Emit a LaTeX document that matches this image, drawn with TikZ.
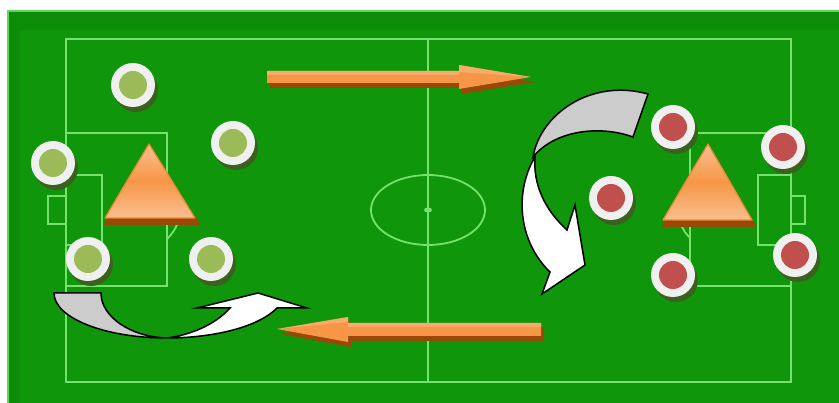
\documentclass[tikz,border=0pt]{standalone}
\usetikzlibrary{calc}
\definecolor{pitchdark}{RGB}{13,140,9}
\definecolor{pitch}{RGB}{16,150,11}
\definecolor{pitchedge}{RGB}{96,214,90}
\definecolor{chalk}{RGB}{116,226,108}
\definecolor{ring}{RGB}{240,240,240}
\definecolor{teamgreen}{RGB}{155,187,89}
\definecolor{teamred}{RGB}{192,80,77}
\definecolor{discshadow}{RGB}{58,98,30}
\definecolor{orangemain}{RGB}{247,150,70}
\definecolor{orangelight}{RGB}{250,192,144}
\definecolor{orangeedge}{RGB}{240,135,55}
\definecolor{orangeshadow}{RGB}{152,72,7}
\definecolor{bandgray}{RGB}{204,204,204}
\tikzset{
  fieldline/.style={draw=chalk, line width=1.8},
  bevel/.style={fill=orangeshadow},
  conefill/.style={top color=orangelight, bottom color=orangelight, middle color=orangemain, draw=orangeedge, line width=1.2, line join=round},
  passfill/.style={fill=orangemain},
  sweep/.style={draw=black, line width=1.5, line join=miter},
}
\begin{document}
\begin{tikzpicture}[x=1pt,y=-1pt]
\useasboundingbox (0,0) rectangle (839,403);
\fill[white] (0,0) rectangle (839,403);
% turf
\fill[pitchdark] (7,10) rectangle (839,403);
\fill[pitch] (20,30) rectangle (839,403);
\draw[pitchedge, line width=2] (8,403) -- (8,11) -- (839,11);

% markings
\draw[fieldline] (66,39) rectangle (791,382);
\draw[fieldline] (428,39) -- (428,382);
\draw[fieldline] (428,210) ellipse (57 and 35);
\fill[chalk] (428,210) ellipse (4 and 2.5);
% left end
\draw[fieldline] (66,133) rectangle (167,286);
\draw[fieldline] (66,175) rectangle (102,245);
\draw[fieldline] (66,196) -- (48,196) -- (48,224) -- (66,224);
\begin{scope}
  \clip (168,0) rectangle (200,403);
  \draw[fieldline] (125,210) ellipse (55 and 45);
\end{scope}
% right end
\draw[fieldline] (690,133) rectangle (791,286);
\draw[fieldline] (758,175) rectangle (791,245);
\draw[fieldline] (791,196) -- (805,196) -- (805,224) -- (791,224);
\begin{scope}
  \clip (660,0) rectangle (689,403);
  \draw[fieldline] (733,210) ellipse (55 and 45);
\end{scope}

% players
\foreach \px/\py in {133/85, 233/143, 53/163, 88/259, 211/259} {
  \fill[discshadow] (\px+3,\py+5) circle (22);
  \fill[ring] (\px,\py) circle (22);
  \fill[teamgreen] (\px,\py) circle (14);
}
\foreach \px/\py in {673/127, 783/147, 611/198, 673/275, 795/255} {
  \fill[discshadow] (\px+3,\py+5) circle (22);
  \fill[ring] (\px,\py) circle (22);
  \fill[teamred] (\px,\py) circle (14);
}

% cones
\fill[bevel] (107,218) -- (197,218) -- (200,225) -- (104,225) -- cycle;
\path[conefill] (149,144) -- (195,218) -- (105,218) -- cycle;
\fill[bevel] (665,220) -- (753,220) -- (756,227) -- (662,227) -- cycle;
\path[conefill] (708,144) -- (752,220) -- (663,220) -- cycle;

% forward pass
\fill[bevel] (269,76) -- (461,76) -- (461,70) -- (535,82) -- (461,94) -- (461,88) -- (269,88) -- cycle;
\fill[passfill] (267,71) -- (459,71) -- (459,65) -- (531,77) -- (459,89) -- (459,83) -- (267,83) -- cycle;
\fill[orangelight, opacity=0.5] (267,71) -- (459,71) -- (459,65) -- (531,77) -- (459,72) -- (459,75) -- (267,75) -- cycle;

% back pass
\fill[bevel] (544,328) -- (351,328) -- (351,322) -- (280,334) -- (351,347) -- (351,341) -- (544,341) -- cycle;
\fill[passfill] (541,323) -- (348,323) -- (348,317) -- (277,329) -- (348,342) -- (348,336) -- (541,336) -- cycle;
\fill[orangelight, opacity=0.5] (541,323) -- (348,323) -- (348,317) -- (277,329) -- (348,322) -- (348,327) -- (541,327) -- cycle;

% curved run, lower left
\filldraw[sweep, fill=bandgray] (54,293) -- (101,293)
  .. controls (101,317) and (131,337) .. (167,338)
  .. controls (105,338) and (54,318) .. cycle;
\filldraw[sweep, fill=white] (167,338)
  .. controls (205,338) and (255,330) .. (277,308)
  -- (307,308) -- (258,293) -- (197,308) -- (230,308)
  .. controls (215,325) and (190,335) .. cycle;

% curved run, right
\filldraw[sweep, fill=bandgray] (533,157)
  .. controls (540,115) and (590,78) .. (648,94)
  -- (633,137)
  .. controls (600,125) and (555,130) .. cycle;
\filldraw[sweep, fill=white] (535,157)
  .. controls (515,190) and (517,240) .. (550,272)
  -- (542,294) -- (585,265) -- (575,205) -- (567,230)
  .. controls (545,210) and (533,185) .. cycle;
\end{tikzpicture}
\end{document}
